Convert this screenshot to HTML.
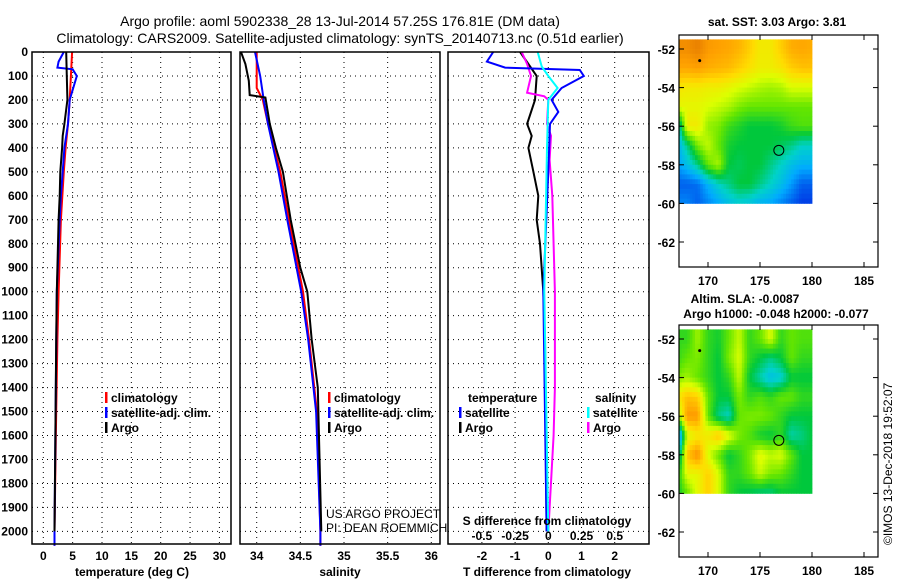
<!DOCTYPE html>
<html><head><meta charset="utf-8"><style>
body{margin:0;background:#fff}
svg{display:block;font-family:"Liberation Sans",sans-serif}
.t{font-size:12px;font-weight:bold}
</style></head><body>
<svg id="s" width="900" height="580" xmlns="http://www.w3.org/2000/svg">
<text x="340" y="26" text-anchor="middle" font-size="14">Argo profile: aoml 5902338_28 13-Jul-2014 57.25S 176.81E (DM data)</text>
<text x="340" y="43" text-anchor="middle" font-size="14">Climatology: CARS2009. Satellite-adjusted climatology: synTS_20140713.nc (0.51d earlier)</text>
<g id="g"></g>
</svg>
<script>
// ---- profile data ----
const tClimDepth=[0,100,200,300,400,500,700,1000,1200,1500,2000,2060];
const tClim=[4.9,4.7,4.5,4.2,3.8,3.5,3.0,2.6,2.4,2.2,1.9,1.9];
const tSatDepth=[0,40,65,72,100,200,300,400,500,600,700,1000,1500,2000,2060];
const tSat=[3.5,2.6,2.4,5.0,5.7,4.5,4.2,3.6,3.3,3.0,2.8,2.3,2.1,1.9,1.9];
const tArgoDepth=[0,100,200,300,350,400,500,600,700,800,1000,1200,1500,2000];
const tArgo=[3.9,4.0,4.1,3.6,3.3,3.2,2.9,2.8,2.6,2.5,2.3,2.2,2.1,1.9];
const sClimDepth=[0,150,200,300,500,700,1000,1200,1500,2000,2060];
const sClim=[34.0,34.0,34.07,34.13,34.27,34.37,34.53,34.6,34.69,34.73,34.73];
const sSatDepth=[0,100,200,300,500,700,1000,1200,1500,2000,2060];
const sSat=[33.98,34.04,34.08,34.13,34.25,34.35,34.51,34.59,34.68,34.73,34.73];
const sArgoDepth=[0,50,120,180,190,300,400,500,700,900,1000,1200,1400,2000];
const sArgo=[33.82,33.87,33.91,33.92,34.1,34.15,34.22,34.3,34.39,34.5,34.58,34.63,34.7,34.74];
const dTSatDepth=[0,40,65,75,100,150,200,250,300,500,1000,2000];
const dTSat=[-1.66,-1.85,-1.3,0.95,1.07,0.4,0.1,0.3,0.05,0.0,-0.15,-0.05];
const dTArgoDepth=[0,100,200,300,350,400,500,600,700,800,1000,1200,2000];
const dTArgo=[-0.85,-0.35,-0.4,-0.64,-0.5,-0.6,-0.45,-0.3,-0.35,-0.25,-0.15,-0.1,-0.05];
const dSSatDepth=[0,60,100,150,200,400,1000,2000];
const dSSat=[-0.08,-0.05,0.0,0.07,0.0,-0.01,-0.03,0.0];
const dSArgoDepth=[0,50,100,170,185,200,300,350,450,600,1000,1400,1600,2000];
const dSArgo=[-0.2,-0.16,-0.13,-0.16,-0.03,0.0,-0.01,0.02,0.01,0.03,0.05,0.05,0.04,0.0];
const tTicks=[0,5,10,15,20,25,30];
const sTicks=[34,34.5,35,35.5,36];
const sTickLabels=["34","34.5","35","35.5","36"];
const dTTicks=[-2,-1,0,1,2];
const dSTicks=[-0.5,-0.25,0,0.25,0.5];
const depthTicks=[0,100,200,300,400,500,600,700,800,900,1000,1100,1200,1300,1400,1500,1600,1700,1800,1900,2000];
// ---- map data (1 degree cells, rows lat -52..-60, cols lon 167..180) ----
const mapLats=[-52,-53,-54,-55,-56,-57,-58,-59,-60];
const mapLons=[167,168,169,170,171,172,173,174,175,176,177,178,179,180];
const sst=[
[0.9,0.9,0.92,0.88,0.87,0.86,0.84,0.8,0.75,0.75,0.8,0.85,0.86,0.85],
[0.86,0.86,0.87,0.85,0.84,0.83,0.8,0.77,0.74,0.74,0.76,0.8,0.82,0.82],
[0.76,0.75,0.75,0.74,0.74,0.72,0.7,0.68,0.66,0.65,0.66,0.7,0.7,0.7],
[0.72,0.72,0.72,0.7,0.68,0.66,0.62,0.6,0.6,0.6,0.6,0.6,0.6,0.6],
[0.3,0.75,0.75,0.64,0.62,0.56,0.53,0.5,0.5,0.5,0.52,0.56,0.58,0.58],
[0.3,0.45,0.62,0.68,0.6,0.52,0.5,0.5,0.5,0.5,0.48,0.45,0.4,0.4],
[0.28,0.35,0.45,0.6,0.66,0.5,0.48,0.5,0.5,0.45,0.4,0.35,0.32,0.32],
[0.2,0.2,0.22,0.32,0.4,0.45,0.5,0.5,0.45,0.4,0.35,0.28,0.2,0.2],
[0.25,0.25,0.2,0.25,0.3,0.35,0.38,0.36,0.32,0.3,0.25,0.2,0.15,0.15]];
const sla=[
[0.55,0.55,0.65,0.55,0.52,0.6,0.68,0.55,0.6,0.7,0.55,0.6,0.58,0.58],
[0.55,0.6,0.62,0.55,0.5,0.62,0.7,0.55,0.5,0.45,0.5,0.6,0.55,0.55],
[0.62,0.65,0.6,0.55,0.5,0.55,0.68,0.5,0.42,0.35,0.38,0.5,0.5,0.5],
[0.75,0.82,0.8,0.6,0.5,0.5,0.62,0.55,0.58,0.55,0.6,0.6,0.55,0.55],
[0.6,0.88,0.88,0.6,0.45,0.4,0.6,0.62,0.62,0.6,0.55,0.5,0.5,0.5],
[0.1,0.7,0.75,0.75,0.82,0.72,0.62,0.58,0.52,0.5,0.55,0.42,0.45,0.5],
[0.3,0.82,0.9,0.7,0.6,0.5,0.55,0.62,0.72,0.68,0.7,0.6,0.5,0.5],
[0.5,0.72,0.72,0.8,0.7,0.55,0.55,0.6,0.68,0.62,0.6,0.55,0.5,0.5],
[0.5,0.6,0.72,0.8,0.7,0.55,0.5,0.48,0.45,0.45,0.5,0.5,0.5,0.5]];
const mapLatTicks=[-52,-54,-56,-58,-60,-62];
const mapLonTicks=[170,175,180,185];

const NS="http://www.w3.org/2000/svg";
const G=document.getElementById('g');
function mk(tag,attrs,parent,txt){const e=document.createElementNS(NS,tag);for(const k in attrs)e.setAttribute(k,attrs[k]);if(txt!==undefined)e.textContent=txt;(parent||G).appendChild(e);return e;}
const Y=d=>52+d*0.2397;
const TOP=52,BOT=544;
function panel(name){
  const g=mk('g',{});
  
  
  return g;
}
function grid(g,x0,x1,xs){
  for(const d of depthTicks){const l=mk('line',{x1:x0,x2:x1,y1:Y(d),y2:Y(d),stroke:'#000','stroke-width':1,'stroke-dasharray':'1 4'},g);}
  for(const x of xs){const l=mk('line',{x1:x,x2:x,y1:TOP,y2:BOT,stroke:'#000','stroke-width':1,'stroke-dasharray':'1 4'},g);}
}
function frame(g,x0,x1){const r=mk('rect',{x:x0,y:TOP,width:x1-x0,height:BOT-TOP,fill:'none',stroke:'#000','stroke-width':1.5},g);}
function line(g,xs,ds,fx,col,name){
  const p=xs.map((v,i)=>fx(v).toFixed(1)+','+Y(ds[i]).toFixed(1)).join(' ');
  const e=mk('polyline',{points:p,fill:'none',stroke:col,'stroke-width':2},g);
  
  
}
function txt(g,x,y,s,opts,name){const e=mk('text',Object.assign({x:x,y:y},opts||{}),g,s);return e;}
function legend(g,x,y,items){
  items.forEach((it,i)=>{
    const r=mk('rect',{x:x,y:y+i*15-10,width:2.5,height:11,fill:it[1]},g);
    txt(g,x+6,y+i*15,it[0],{class:'t'},'legend-entry');
  });
}
// panel 1 temperature
const fT=v=>43.3+v*5.87;
let g1=panel('temperature-panel');
grid(g1,32,231,tTicks.map(fT));
for(const d of depthTicks)txt(g1,28,Y(d)+4,String(d),{class:'t','text-anchor':'end'},'depth-tick-label');
line(g1,tClim,tClimDepth,fT,'#f00','temp-climatology-line');
line(g1,tSat,tSatDepth,fT,'#00f','temp-satellite-line');
line(g1,tArgo,tArgoDepth,fT,'#000','temp-argo-line');
frame(g1,32,231);
tTicks.forEach(v=>txt(g1,fT(v),560,String(v),{class:'t','text-anchor':'middle'},'temp-tick-label'));
txt(g1,132,576,'temperature (deg C)',{class:'t','text-anchor':'middle'},'temp-axis-title');
legend(g1,105,402,[['climatology','#f00'],['satellite-adj. clim.','#00f'],['Argo','#000']]);
// panel 2 salinity
const fS=v=>256.7+(v-34)*87.3;
let g2=panel('salinity-panel');
grid(g2,240,440,sTicks.map(fS));
line(g2,sClim,sClimDepth,fS,'#f00','sal-climatology-line');
line(g2,sSat,sSatDepth,fS,'#00f','sal-satellite-line');
line(g2,sArgo,sArgoDepth,fS,'#000','sal-argo-line');
frame(g2,240,440);
sTicks.forEach((v,i)=>txt(g2,fS(v),560,sTickLabels[i],{class:'t','text-anchor':'middle'},'sal-tick-label'));
txt(g2,340,576,'salinity',{class:'t','text-anchor':'middle'},'sal-axis-title');
legend(g2,328,402,[['climatology','#f00'],['satellite-adj. clim.','#00f'],['Argo','#000']]);
txt(g2,326,518,'US ARGO PROJECT',{'font-size':12},'credit-line-1');
txt(g2,326,532,'PI: DEAN ROEMMICH',{'font-size':12},'credit-line-2');
// panel 3 differences
const fD=v=>548.3+v*33.2;
const fDS=v=>548.3+v*4*33.2;
let g3=panel('difference-panel');
grid(g3,448,649,dTTicks.map(fD));
line(g3,dTArgo,dTArgoDepth,fD,'#000','dT-argo-line');
line(g3,dSArgo,dSArgoDepth,fDS,'#f0f','dS-argo-line');
line(g3,dTSat,dTSatDepth,fD,'#00f','dT-satellite-line');
line(g3,dSSat,dSSatDepth,fDS,'#0ff','dS-satellite-line');
frame(g3,448,649);
dTTicks.forEach(v=>txt(g3,fD(v),560,String(v),{class:'t','text-anchor':'middle'},'dT-tick-label'));
dSTicks.forEach(v=>txt(g3,fDS(v),540,String(v),{class:'t','text-anchor':'middle'},'dS-tick-label'));
txt(g3,547,525,'S difference from climatology',{class:'t','text-anchor':'middle'},'dS-axis-title');
txt(g3,547,576,'T difference from climatology',{class:'t','text-anchor':'middle'},'dT-axis-title');
txt(g3,468,402,'temperature',{class:'t'},'legend-title-temperature');
legend(g3,459,417,[['satellite','#00f'],['Argo','#000']]);
txt(g3,595,402,'salinity',{class:'t'},'legend-title-salinity');
legend(g3,587,417,[['satellite','#0ff'],['Argo','#f0f']]);
// maps
const stops=[[0,[0,0,150]],[0.15,[0,60,230]],[0.3,[0,170,255]],[0.4,[0,210,200]],[0.5,[0,200,60]],[0.6,[100,230,0]],[0.7,[220,255,0]],[0.78,[255,220,0]],[0.87,[255,160,0]],[1,[200,80,0]]];
function cmap(v){for(let i=1;i<stops.length;i++){if(v<=stops[i][0]){const a=stops[i-1],b=stops[i],t=(v-a[0])/(b[0]-a[0]);return 'rgb('+a[1].map((c,k)=>Math.round(c+(b[1][k]-c)*t)).join(',')+')';}}return 'rgb(200,80,0)';}
function map(y0,vals,name,sub,titles){
  const g=mk('g',{});
  
  
  const lx=v=>708+(v-170)*10.4, ly=v=>y0+49+(-52-v)*19.3;
  const step=sub;
  for(let r=0;r<mapLats.length;r++)for(let c=0;c<mapLons.length;c++){
    for(let a=0;a<step;a++)for(let b=0;b<step;b++){
      const la=mapLats[r]+0.5-(a+0.5)/step, lo=mapLons[c]-0.5+(b+0.5)/step;
      if(lo<167.2||lo>180.1||la>-51.2||la<-60.1)continue;
      const fr=Math.min(Math.max(-52-la,0),8), fc=Math.min(Math.max(lo-167,0),13);
      const r0=Math.floor(fr),c0=Math.floor(fc),r1=Math.min(r0+1,8),c1=Math.min(c0+1,13),tr=fr-r0,tc=fc-c0;
      const v=vals[r0][c0]*(1-tr)*(1-tc)+vals[r0][c1]*(1-tr)*tc+vals[r1][c0]*tr*(1-tc)+vals[r1][c1]*tr*tc;
      const x0=Math.max(lx(lo-0.5/step),679),x1=Math.min(lx(lo+0.5/step),lx(180.1));
      const yA=Math.max(ly(la+0.5/step),y0+35),yB=Math.min(ly(la-0.5/step),ly(-60.1));
      const cell=mk('rect',{x:x0.toFixed(1),y:yA.toFixed(1),width:(x1-x0+0.4).toFixed(1),height:(yB-yA+0.4).toFixed(1),fill:cmap(v)},g);
      
      
    }
  }
  const fr=mk('rect',{x:679,y:y0+35,width:199,height:232,fill:'none',stroke:'#000','stroke-width':1.2},g);
  
  mapLatTicks.forEach(v=>{mk('line',{x1:679,x2:684,y1:ly(v),y2:ly(v),stroke:'#000'},g);mk('line',{x1:873,x2:878,y1:ly(v),y2:ly(v),stroke:'#000'},g);txt(g,675,ly(v)+5,String(v),{class:'t','text-anchor':'end'},'map-lat-label');});
  mapLonTicks.forEach(v=>{mk('line',{x1:lx(v),x2:lx(v),y1:y0+35,y2:y0+40,stroke:'#000'},g);mk('line',{x1:lx(v),x2:lx(v),y1:y0+262,y2:y0+267,stroke:'#000'},g);txt(g,lx(v),y0+285,String(v),{class:'t','text-anchor':'middle'},'map-lon-label');});
  const d=mk('circle',{cx:lx(169.2),cy:ly(-52.6),r:1.5,fill:'#000'},g);
  const c=mk('circle',{cx:lx(176.81),cy:ly(-57.25),r:5,fill:'none',stroke:'#000','stroke-width':1},g);
  titles.forEach(t=>txt(g,t[0],y0+t[1],t[2],{class:'t','text-anchor':'middle'},'map-title'));
}
map(0,sst,'sst-map',4,[[777,26,'sat. SST: 3.03 Argo: 3.81']]);
map(290,sla,'sla-map',4,[[745,13,'Altim. SLA: -0.0087'],[776,28,'Argo h1000: -0.048 h2000: -0.077']]);
const st=txt(G,0,0,'©IMOS 13-Dec-2018 19:52:07',{'font-size':12,transform:'translate(892,545) rotate(-90)'},'timestamp');
</script>
</body></html>
